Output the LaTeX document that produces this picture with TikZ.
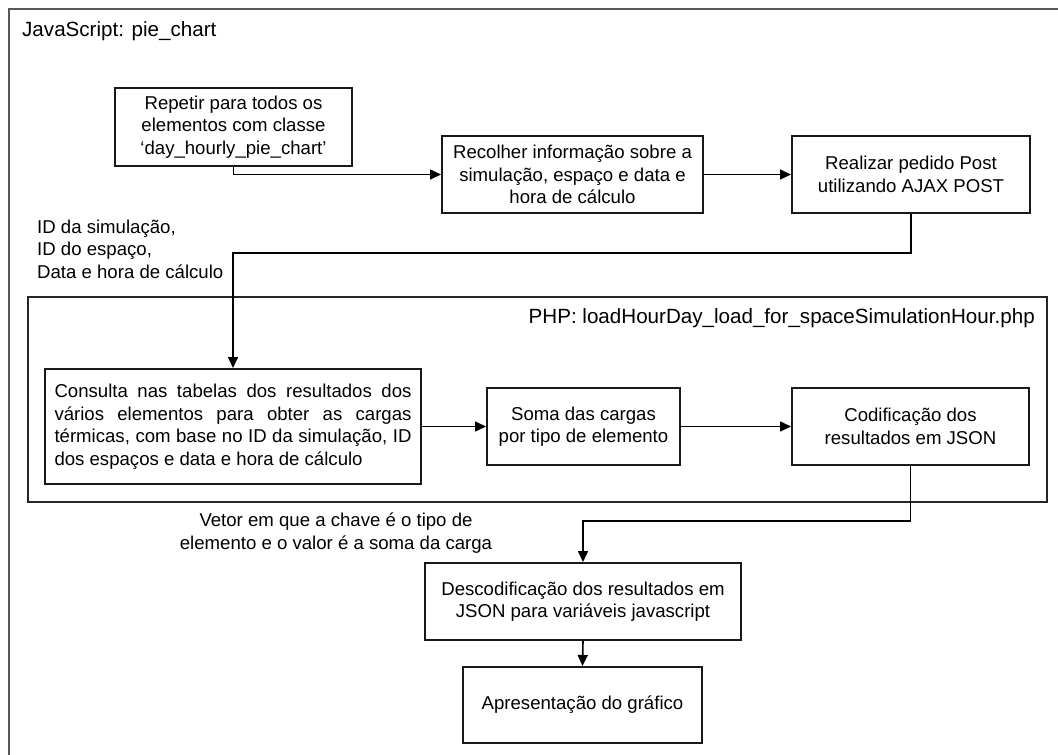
\documentclass[tikz,border=0pt]{standalone}
\usepackage{fontspec}
\setmainfont{Liberation Sans}
\usetikzlibrary{arrows.meta}
\begin{document}
\begin{tikzpicture}[x=1pt,y=-1pt,
  boxtxt/.style={font=\fontsize{18.6}{22.5}\selectfont},
  procbox/.style={draw=black!90, line width=2pt, inner sep=0pt, align=center, boxtxt, fill=white},
  frameline/.style={draw=black!65, line width=2pt},
  arr/.style={draw=black, line width=1.6pt, -{Triangle[length=11pt,width=10pt]}},
  lbl/.style={boxtxt, inner sep=0pt}
]
\useasboundingbox (0,0) rectangle (1058,755);
\clip (0,0) rectangle (1058,755);
\fill[white] (0,0) rectangle (1058,755);
% outer frame (cut by the page)
\draw[frameline] (8.5,8.5) rectangle (1075,775);
\node[anchor=west, inner sep=0pt, font=\fontsize{20.6}{24}\selectfont] (jstitle) at (22,31) {JavaScript: pie\_chart};
% PHP frame
\draw[frameline, draw=black!85] (28,297) rectangle (1047,502);
\node[anchor=east, inner sep=0pt, font=\fontsize{20.6}{24}\selectfont] (phptitle) at (1035,318) {PHP: loadHourDay\_load\_for\_spaceSimulationHour.php};

\node[procbox, minimum width=237pt, minimum height=78pt] (b1) at (233.5,127)
  {Repetir para todos os\\elementos com classe\\`day\_hourly\_pie\_chart'};
\node[procbox, minimum width=261pt, minimum height=77pt] (b2) at (572.5,174.5)
  {Recolher informação sobre a\\simulação, espaço e data e\\hora de cálculo};
\node[procbox, minimum width=238pt, minimum height=77pt] (b3) at (911,174.5)
  {Realizar pedido Post\\utilizando AJAX POST};
\node[procbox, minimum width=376pt, minimum height=115pt, align=left] (b4) at (233,426.5)
  {\makebox[357pt][s]{Consulta nas tabelas dos resultados dos}\\
   \makebox[357pt][s]{vários elementos para obter as cargas}\\
   \makebox[357pt][s]{térmicas, com base no ID da simulação, ID}\\
   \makebox[357pt][l]{dos espaços e data e hora de cálculo}};
\node[procbox, minimum width=193pt, minimum height=77pt] (b5) at (583.5,426.5)
  {Soma das cargas\\por tipo de elemento};
\node[procbox, minimum width=237pt, minimum height=77pt] (b6) at (910.5,426.5)
  {Codificação dos\\resultados em JSON};
\node[procbox, minimum width=316pt, minimum height=77pt] (b7) at (583,601.5)
  {Descodificação dos resultados em\\JSON para variáveis javascript};
\node[procbox, minimum width=239pt, minimum height=76pt] (b8) at (582.5,705)
  {Apresentação do gráfico};

\node[lbl, anchor=west, align=left] (idlbl) at (37,249)
  {ID da simulação,\\ID do espaço,\\Data e hora de cálculo};
\node[lbl, align=center] (vetlbl) at (336,533)
  {Vetor em que a chave é o tipo de\\elemento e o valor é a soma da carga};

\draw[arr] (b1.south) |- (b2.west);
\draw[arr] (b2.east) -- (b3.west);
\draw[arr] (b3.south) -- ++(0,39) -| (b4.north);
\draw[arr] (b4.east) -- (b5.west);
\draw[arr] (b5.east) -- (b6.west);
\draw[arr] (b6.south) -- ++(0,55) -| (b7.north);
\draw[arr] (b7.south) -- (b8.north);
\end{tikzpicture}
\end{document}
